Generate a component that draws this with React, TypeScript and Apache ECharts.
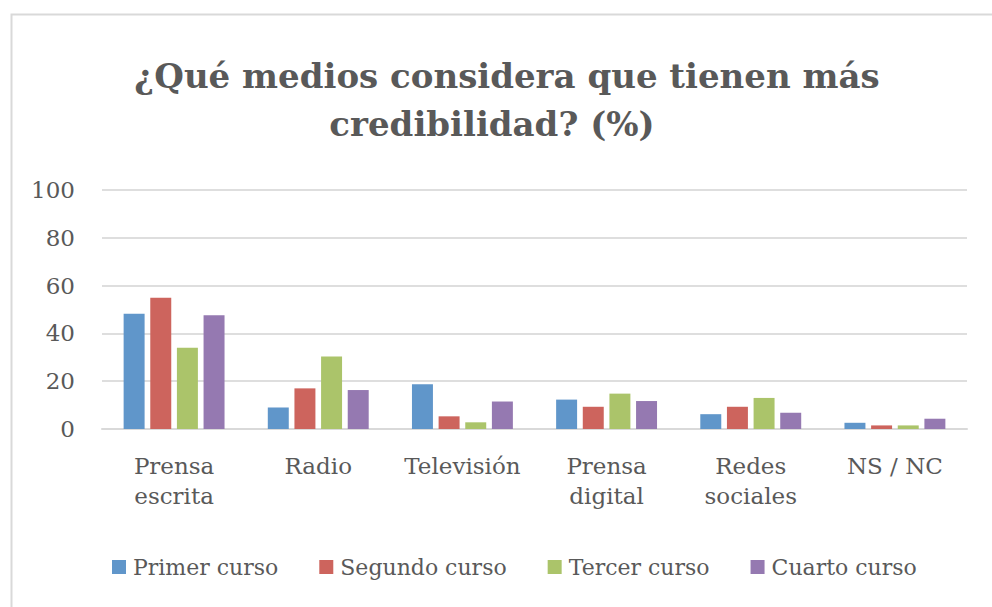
import React, { useEffect, useRef } from "react";
import * as echarts from "echarts";

const categories = ["Prensa\nescrita", "Radio", "Televisión", "Prensa\ndigital", "Redes\nsociales", "NS / NC"];
const seriesNames = ["Primer curso", "Segundo curso", "Tercer curso", "Cuarto curso"];
const primerCurso = [48.2, 9.0, 18.7, 12.3, 6.2, 2.6];
const segundoCurso = [54.9, 17.0, 5.3, 9.3, 9.3, 1.5];
const tercerCurso = [34.0, 30.3, 2.8, 14.8, 13.0, 1.5];
const cuartoCurso = [47.6, 16.3, 11.5, 11.7, 6.8, 4.3];
const titleLines = ["¿Qué medios considera que tienen más", "credibilidad? (%)"];

const colors = ["#6096CA", "#CD645D", "#ABC46A", "#9579B1"];
const FONT = "'DejaVu Serif', serif";
const GRAY = "#595959";

export default function App() {
  const ref = useRef<HTMLDivElement>(null);
  useEffect(() => {
    if (!ref.current) return;
    const chart = echarts.init(ref.current, null, { renderer: "svg" });
    const values = [primerCurso, segundoCurso, tercerCurso, cuartoCurso];
    chart.setOption({
      animation: false,
      backgroundColor: "#ffffff",
      color: colors,
      graphic: [
        {
          type: "rect",
          shape: { x: 11.5, y: 14.5, width: 1100, height: 700 },
          style: { fill: "none", stroke: "#D9D9D9", lineWidth: 2 },
          silent: true,
        },
        {
          type: "text",
          x: 507,
          y: 76,
          style: {
            text: titleLines[0],
            font: `bold 34px ${FONT}`,
            fill: GRAY,
            textAlign: "center",
            textVerticalAlign: "middle",
          },
        },
        {
          type: "text",
          x: 492,
          y: 124,
          style: {
            text: titleLines[1],
            font: `bold 34px ${FONT}`,
            fill: GRAY,
            textAlign: "center",
            textVerticalAlign: "middle",
          },
        },
      ],
      legend: {
        data: seriesNames,
        left: 107,
        top: 551,
        itemWidth: 14,
        itemHeight: 14,
        itemGap: 41,
        icon: "rect",
        textStyle: { fontFamily: FONT, fontSize: 22, color: GRAY, padding: [0, 0, 0, 2] },
      },
      grid: { left: 102, right: 25, top: 190, bottom: 607 - 429, containLabel: false },
      xAxis: {
        type: "category",
        data: categories,
        axisLine: { show: true, lineStyle: { color: "#D9D9D9", width: 2 } },
        axisTick: { show: false },
        axisLabel: {
          fontFamily: FONT,
          fontSize: 23,
          color: GRAY,
          lineHeight: 30,
          margin: 22,
          interval: 0,
        },
      },
      yAxis: {
        type: "value",
        min: 0,
        max: 100,
        interval: 20,
        axisLine: { show: false },
        axisTick: { show: false },
        splitLine: { lineStyle: { color: "#DEDEDE", width: 2 } },
        axisLabel: { fontFamily: FONT, fontSize: 23, color: GRAY, margin: 27 },
      },
      series: seriesNames.map((name, i) => ({
        name,
        type: "bar",
        data: values[i],
        barGap: "27%",
        barCategoryGap: "30%",
        itemStyle: { color: colors[i] },
      })),
    });
    return () => chart.dispose();
  }, []);
  return (
    <div
      ref={ref}
      style={{ position: "absolute", left: 0, top: 0, width: 992, height: 607 }}
    />
  );
}
